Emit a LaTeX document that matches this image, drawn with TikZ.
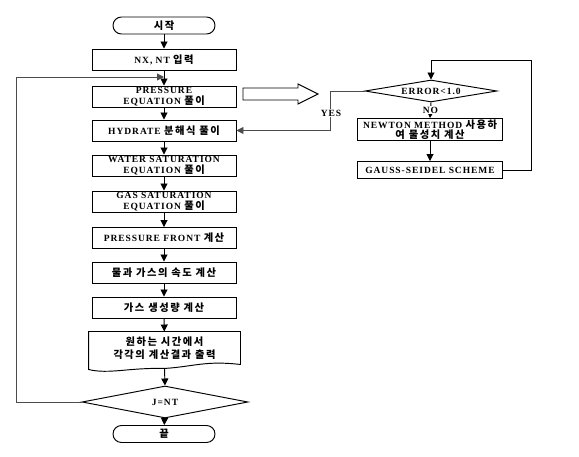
\documentclass[tikz,border=0pt]{standalone}
\usepackage{fontspec}
\setmainfont{Liberation Serif}[LetterSpace=10]
\newfontfamily\kr{Noto Sans CJK KR}[Scale=1.08,LetterSpace=15]
\usetikzlibrary{shapes.geometric,arrows.meta,calc}
\newcommand\ko[1]{{\kr\bfseries #1}}
\begin{document}
\begin{tikzpicture}[x=1pt,y=-1pt,
  font=\fontsize{9.5}{10.5}\selectfont\bfseries,
  line width=0.95pt,
  >={Triangle[length=7pt,width=7pt]},
  box/.style={draw, minimum width=144pt, minimum height=21pt, inner sep=0pt, align=center},
  term/.style={draw, rounded corners=8.5pt, minimum width=102pt, minimum height=17pt, inner sep=1pt},
  dia/.style={draw, diamond, inner sep=0pt},
  rbox/.style={draw, minimum width=145pt, align=center, inner sep=0pt},
  lab/.style={fill=white, inner sep=1pt},
  gline/.style={draw=black!70}]
\useasboundingbox (0,0) rectangle (579,457);
% main column
\node[term] (start) at (164,25.5) {\ko{시작}};
\node[box] (nx) at (164,59.5) {NX, NT \ko{입력}};
\node[box] (pe) at (164,96.5) {PRESSURE\\EQUATION \ko{풀이}};
\node[box] (hy) at (164,130.5) {HYDRATE \ko{분해식 풀이}};
\node[box] (ws) at (164,165.5) {WATER SATURATION\\EQUATION \ko{풀이}};
\node[box] (gs) at (164,201.5) {GAS SATURATION\\EQUATION \ko{풀이}};
\node[box] (pf) at (164,238) {PRESSURE FRONT \ko{계산}};
\node[box] (vel) at (164,272.5) {\ko{물과 가스의 속도 계산}};
\node[box] (gen) at (164,307.5) {\ko{가스 생성량 계산}};
\node[minimum width=151pt, minimum height=32pt, align=center, inner sep=1pt] (doc) at (164.5,348) {\ko{원하는 시간에서}\\[2pt]\ko{각각의 계산결과 출력}};
\draw (doc.south west) -- (doc.north west) -- (doc.north east) -- (doc.south east)
  .. controls ($(doc.south east)+(-35,-4)$) and ($(doc.south)+(30,2)$) .. ($(doc.south)+(0,4)$)
  .. controls ($(doc.south)+(-35,3)$) and ($(doc.south west)+(20,10)$) .. ($(doc.south west)+(0,5)$) -- cycle;
\node[dia, aspect=5.2, minimum width=166pt, minimum height=32pt] (jnt) at (165,402) {J=NT};
\node[term] (end) at (164,434) {\ko{끝}};
% right side
\node[dia, aspect=6, minimum width=132pt, minimum height=22pt] (err) at (431,91) {ERROR<1.0};
\node[rbox, minimum height=22pt] (newt) at (430,129.5) {NEWTON METHOD \ko{사용하}\\\ko{여 물성치 계산}};
\node[rbox, minimum height=17pt] (gauss) at (430,170) {GAUSS-SEIDEL SCHEME};
\coordinate (lp) at (164,77);
\coordinate (top) at (431,60);
% main connectors
\draw[->] (start) -- (nx);
\draw[->] (nx) -- (pe);
\draw[->] (pe) -- (hy);
\draw[->] (hy) -- (ws);
\draw[->] (ws) -- (gs);
\draw[->] (gs) -- (pf);
\draw[->] (pf) -- (vel);
\draw[->] (vel) -- (gen);
\draw[->] (gen) -- (doc);
\draw[->] ($(doc.south)+(0,4)$) -- (jnt.north);
\draw[->] (jnt) -- (end);
% loop back
\draw[->, gline] (jnt.west) -- ++(-65,0) |- (lp);
% hollow arrow
\draw (243,88) -- (298,88) -- (298,84) -- (318,94) -- (298,104) -- (298,100) -- (243,100) -- cycle;
% yes branch
\draw[->, gline] (err.west) -- ++(-34,0) |- (hy.east);
\node[lab] (yes) at (331,113) {YES};
% no branch
\draw[->] (err.south) -- (newt.north) node[midway, lab] (no) {NO};
\draw[->] (newt) -- (gauss);
\draw[->] (gauss.east) -- ++(28,0) |- (top) -- (err.north);
\end{tikzpicture}
\end{document}
